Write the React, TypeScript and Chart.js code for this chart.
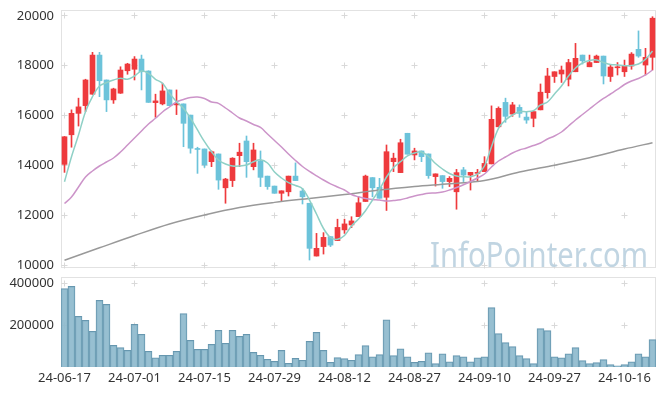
import React, { useEffect, useRef } from 'react';
import { Chart, registerables } from 'chart.js';
Chart.register(...registerables);

const dates = [
  '24-06-17','24-06-18','24-06-19','24-06-20','24-06-21','24-06-24','24-06-25','24-06-26','24-06-27','24-06-28',
  '24-07-01','24-07-02','24-07-03','24-07-04','24-07-05','24-07-08','24-07-09','24-07-10','24-07-11','24-07-12',
  '24-07-15','24-07-16','24-07-17','24-07-18','24-07-19','24-07-22','24-07-23','24-07-24','24-07-25','24-07-26',
  '24-07-29','24-07-30','24-07-31','24-08-01','24-08-02','24-08-05','24-08-06','24-08-07','24-08-08','24-08-09',
  '24-08-12','24-08-13','24-08-14','24-08-16','24-08-19','24-08-20','24-08-21','24-08-22','24-08-23','24-08-26',
  '24-08-27','24-08-28','24-08-29','24-08-30','24-09-02','24-09-03','24-09-04','24-09-05','24-09-06','24-09-09',
  '24-09-10','24-09-11','24-09-12','24-09-13','24-09-19','24-09-20','24-09-23','24-09-24','24-09-25','24-09-26',
  '24-09-27','24-09-30','24-10-02','24-10-04','24-10-07','24-10-08','24-10-10','24-10-11','24-10-14','24-10-15',
  '24-10-16','24-10-17','24-10-18','24-10-21','24-10-22'
];

const opens = [
  14040,15230,16090,16400,16860,18430,17430,16630,16900,17800,
  17860,18270,17790,16520,16470,17030,16430,16470,16020,14660,
  14660,14150,14460,13100,13390,14390,14980,13950,14180,13570,
  13170,12880,12940,13570,12970,12480,10360,10740,11140,10980,
  11410,11610,11940,12550,13510,13120,12720,14150,13710,15290,
  14420,14580,14460,13550,13590,13350,12940,13820,13610,13680,
  13750,14060,15550,16530,16060,16330,15940,15890,16230,16920,
  17570,17670,17460,17760,18430,17960,18130,18390,17570,17920,
  17760,17990,18660,18030,18340
];
const highs = [
  15160,16230,16700,17460,18540,18540,17430,17100,17960,18100,
  18370,18430,17800,16860,17300,17030,17030,16470,16020,14730,
  14660,14580,14460,13480,14310,14890,15180,14890,14580,13570,
  13170,12980,13570,14100,13080,12480,11270,11300,11140,11840,
  11840,11940,12740,13610,13510,13480,14820,14490,15050,15290,
  14690,14580,14460,13660,13590,13550,13840,13920,13720,13840,
  14350,16390,16350,16700,16530,16430,16160,16160,17270,17900,
  17760,17990,18260,18900,18430,18430,18430,18390,18040,18130,
  18230,18530,19400,18700,19970
];
const lows = [
  13720,14730,15580,16160,16850,16760,16160,16490,16890,17660,
  17430,17030,16530,15930,16430,16400,16040,14750,14490,13680,
  13920,13950,13040,12480,13150,13950,13520,13820,13150,13040,
  12880,12550,12770,13390,12450,10200,10360,10440,10740,10980,
  11270,11500,11940,12550,12740,12680,12190,13750,13710,14450,
  14220,14150,13480,13170,13080,13150,12240,13350,13010,13350,
  13750,14060,15550,15730,15970,15930,15690,15550,16230,16700,
  17330,17330,17190,17760,18070,17960,18130,17270,17370,17630,
  17570,17860,18340,17630,17830
];
const closes = [
  15150,16090,16350,17430,18430,17400,16630,17070,17830,18070,
  18270,17760,16530,16590,16990,16400,16490,15690,14690,14640,
  14020,14550,13410,13450,14290,14530,14150,14620,13520,13150,
  12880,12980,13570,13390,12740,10670,10670,11110,10800,11510,
  11650,11770,12500,13570,13100,12680,14550,14290,14910,14450,
  14580,14350,13590,13660,13350,13480,13710,13610,13720,13720,
  14080,15850,16290,15970,16430,16090,15820,16160,16940,17590,
  17760,17830,18130,18300,18200,18130,18390,17590,17950,17960,
  17990,18470,18390,18340,19910
];

const ma5 = [
  13345,14350,15221,16157,16759,17189,17322,17430,17498,17458,
  17590,17791,17699,17458,17297,16896,16560,16293,15892,15422,
  14952,14550,14217,14056,13976,13976,14016,14149,14229,14096,
  13735,13494,13305,13193,13064,12610,12048,11466,11104,11032,
  11185,11566,11847,12180,12610,13032,13534,13916,14149,14378,
  14498,14538,14357,14076,13855,13675,13574,13546,13546,13655,
  13976,14751,15490,15823,16024,16157,16157,16197,16426,16546,
  16867,17189,17590,17912,18112,18213,18233,18133,18052,18032,
  18004,18012,18072,18261,18594
];
const ma20 = [
  12470,12731,13133,13534,13775,13976,14137,14297,14538,14819,
  15100,15382,15663,15892,16145,16345,16546,16647,16727,16747,
  16687,16546,16490,16305,16104,15904,15783,15643,15522,15261,
  15000,14739,14458,14197,13956,13755,13582,13414,13261,13133,
  13012,12830,12739,12671,12631,12610,12570,12590,12622,12691,
  12771,12831,12880,12892,12932,13012,13112,13225,13353,13494,
  13655,13936,14177,14337,14498,14618,14699,14799,14900,15060,
  15181,15341,15582,15823,16044,16265,16486,16687,16867,17048,
  17249,17390,17490,17631,17831
];
const maLongIdx = [0,5,10,15,20,25,30,35,40,45,50,55,60,65,70,75,80,84];
const maLong = [10190,10690,11185,11650,12010,12310,12515,12675,12830,13010,13150,13260,13390,13735,14010,14310,14655,14910];

const volumes = [
  373000,384000,241000,222000,170000,317000,298000,103000,92000,79000,
  203000,156000,75000,44000,56000,56000,75000,254000,127000,84000,
  84000,108000,175000,113000,175000,146000,156000,70000,56000,37000,
  27000,79000,17000,41000,32000,122000,165000,79000,22000,45000,
  40000,32000,59000,102000,49000,59000,225000,54000,87000,49000,
  22000,27000,68000,16000,63000,25000,54000,49000,25000,44000,
  49000,283000,159000,116000,97000,54000,40000,16000,183000,173000,
  49000,44000,63000,92000,30000,16000,21000,35000,11000,6000,
  11000,25000,63000,49000,130000
];

const priceTicks = [10000, 12000, 14000, 16000, 18000, 20000];
const volumeTicks = [200000, 400000];
const xTickIdx = [0, 10, 20, 30, 40, 50, 60, 70, 80];

const UP = '#ee3a3d';
const DOWN = '#6cc3da';
const FONT = '"Noto Sans", sans-serif';
const LABEL_COLOR = '#333333';

const framePlugin = (yVals: number[], showX: boolean) => ({
  id: 'frame',
  beforeDatasetsDraw(chart: any) {
    const { ctx, chartArea: a, scales } = chart;
    ctx.save();
    ctx.strokeStyle = '#e2e2e2';
    ctx.lineWidth = 1;
    ctx.strokeRect(a.left + 0.5, a.top + 0.5, a.right - a.left - 1, a.bottom - a.top - 1);
    ctx.strokeStyle = '#d9d9d9';
    for (const i of xTickIdx) {
      for (const v of yVals) {
        const x = Math.floor(scales.x.getPixelForValue(i)) + 0.5;
        const y = Math.floor(scales.y.getPixelForValue(v)) + 0.5;
        ctx.beginPath();
        ctx.moveTo(x - 3, y); ctx.lineTo(x + 3, y);
        ctx.moveTo(x, y - 3); ctx.lineTo(x, y + 3);
        ctx.stroke();
      }
    }
    ctx.fillStyle = LABEL_COLOR;
    ctx.font = `13px ${FONT}`;
    ctx.textAlign = 'right';
    ctx.textBaseline = 'middle';
    for (const v of yVals) {
      ctx.fillText(String(v), a.left - 7, scales.y.getPixelForValue(v));
    }
    if (showX) {
      ctx.textAlign = 'center';
      for (const i of xTickIdx) {
        ctx.fillText(dates[i], scales.x.getPixelForValue(i), a.bottom + 11);
      }
    }
    ctx.restore();
  },
});

const watermarkPlugin = {
  id: 'wm',
  beforeDatasetsDraw(chart: any) {
    const { ctx } = chart;
    ctx.save();
    ctx.font = `35px ${FONT}`;
    ctx.fillStyle = 'rgba(186,208,223,0.9)';
    ctx.textBaseline = 'alphabetic';
    ctx.textAlign = 'left';
    ctx.fillText('InfoPointer.com', 430, 267, 218);
    ctx.restore();
  },
};

export default function App() {
  const priceRef = useRef<HTMLCanvasElement>(null);
  const volRef = useRef<HTMLCanvasElement>(null);

  useEffect(() => {
    document.body.style.margin = '0';
    Chart.defaults.font.family = FONT;
    const colors = opens.map((o, i) => (closes[i] >= o ? UP : DOWN));
    const lineDs = (label: string, pts: any[], color: string) => ({
      type: 'line' as const,
      label,
      data: pts,
      borderColor: color,
      borderWidth: 1.5,
      pointRadius: 0,
      tension: 0.35,
      order: 0,
    });
    const hiddenScales = (ymin: number, ymax: number) => ({
      x: { type: 'linear', min: -0.5, max: 84.5, offset: false, display: false },
      y: { type: 'linear', min: ymin, max: ymax, display: false },
    });

    const price = new Chart(priceRef.current!, {
      type: 'bar',
      data: {
        datasets: [
          lineDs('MA5', ma5.map((v, i) => ({ x: i, y: v })), '#8fd0c6'),
          lineDs('MA20', ma20.map((v, i) => ({ x: i, y: v })), '#cc94c9'),
          lineDs('MA120', maLongIdx.map((x, k) => ({ x, y: maLong[k] })), '#999999'),
          {
            type: 'bar',
            label: 'body',
            data: opens.map((o, i) => ({ x: i, y: [Math.min(o, closes[i]), Math.max(o, closes[i])] })),
            backgroundColor: colors,
            barThickness: 5,
            minBarLength: 1,
            grouped: false,
            order: 1,
          } as any,
          {
            type: 'bar',
            label: 'wick',
            data: lows.map((l, i) => ({ x: i, y: [l, highs[i]] })),
            backgroundColor: colors,
            barThickness: 1,
            grouped: false,
            order: 2,
          } as any,
        ],
      },
      options: {
        animation: false,
        responsive: false,
        maintainAspectRatio: false,
        layout: { padding: { top: 10, right: 9, bottom: 4, left: 61 } },
        plugins: { legend: { display: false }, tooltip: { enabled: false } },
        scales: hiddenScales(9880, 20240),
      } as any,
      plugins: [framePlugin(priceTicks, false), watermarkPlugin],
    });

    const vol = new Chart(volRef.current!, {
      type: 'bar',
      data: {
        datasets: [
          {
            label: 'volume',
            data: volumes.map((v, i) => ({ x: i, y: v })),
            backgroundColor: 'rgba(140,184,204,0.9)',
            borderColor: '#6797af',
            borderWidth: 1,
            barThickness: 7,
          } as any,
        ],
      },
      options: {
        animation: false,
        responsive: false,
        maintainAspectRatio: false,
        layout: { padding: { top: 5, right: 9, bottom: 29, left: 61 } },
        plugins: { legend: { display: false }, tooltip: { enabled: false } },
        scales: hiddenScales(0, 428600),
      } as any,
      plugins: [framePlugin(volumeTicks, true)],
    });

    return () => {
      price.destroy();
      vol.destroy();
    };
  }, []);

  return (
    <div style={{ position: 'relative', width: 665, height: 396, background: '#fff' }}>
      <canvas ref={priceRef} width={665} height={272} style={{ position: 'absolute', left: 0, top: 0, display: 'block' }} />
      <canvas ref={volRef} width={665} height={124} style={{ position: 'absolute', left: 0, top: 272, display: 'block' }} />
    </div>
  );
}
